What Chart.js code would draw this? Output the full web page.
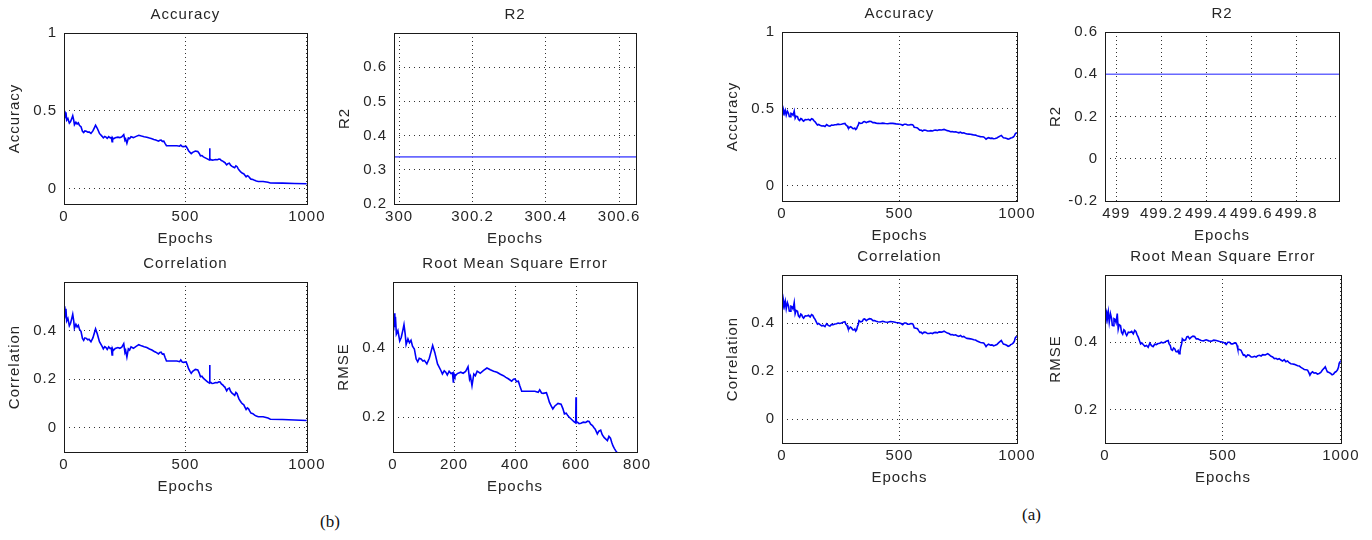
<!DOCTYPE html>
<html>
<head>
<meta charset="utf-8">
<script src="https://cdn.jsdelivr.net/npm/chart.js@4.4.1/dist/chart.umd.min.js"></script>
<style>
  body { margin: 0; background: #fff; width: 1372px; height: 540px; position: relative; overflow: hidden; }
  .box { position: absolute; }
  .tag { position: absolute; font-family: "Liberation Serif", "Times New Roman", serif; font-size: 17px; color: #111; }
</style>
</head>
<body>
<div class="tag" style="left:320px;top:512px">(b)</div>
<div class="tag" style="left:1022px;top:505px">(a)</div>
<script>
// (b) group: accuracy, correlation and rmse panels all trace this same curve
var epochsB = [
    0, 2, 4, 6, 8, 11, 16, 22, 27, 32,
    36, 40, 43, 49, 54, 59, 64, 70, 76, 81,
    86, 92, 98, 103, 111, 119, 125, 130, 137, 146,
    157, 162, 168, 173, 178, 184, 190, 195, 198, 200,
    203, 211, 222, 230, 238, 246, 251, 254, 259, 265,
    270, 276, 286, 297, 308, 319, 330, 341, 352, 362,
    370, 378, 389, 395, 400, 405, 411, 416, 422, 449,
    465, 476, 481, 487, 492, 503, 508, 513, 519, 524,
    530, 541, 551, 557, 562, 568, 573, 578, 584, 590,
    595, 599, 600, 601, 605, 610, 616, 624, 632, 638,
    643, 648, 654, 659, 663, 667, 670, 675, 681, 686,
    692, 697, 703, 708, 713, 717, 721, 726, 730, 735,
    740, 745, 750, 755, 760, 765, 770, 778, 785, 792,
    800, 820, 840, 850, 900, 950, 1000
];
var seriesB = [
    0.50, 0.45, 0.50, 0.46, 0.49, 0.44, 0.45, 0.42, 0.43, 0.45,
    0.467, 0.44, 0.41, 0.426, 0.415, 0.422, 0.405, 0.397, 0.368, 0.36,
    0.37, 0.368, 0.362, 0.364, 0.354, 0.37, 0.39, 0.407, 0.387, 0.354,
    0.335, 0.325, 0.334, 0.33, 0.322, 0.333, 0.326, 0.328, 0.30, 0.325,
    0.318, 0.326, 0.33, 0.327, 0.332, 0.346, 0.31, 0.318, 0.291, 0.325,
    0.32, 0.333, 0.327, 0.335, 0.342, 0.337, 0.333, 0.33, 0.324, 0.32,
    0.315, 0.311, 0.304, 0.31, 0.311, 0.303, 0.304, 0.29, 0.275, 0.275,
    0.275, 0.272, 0.279, 0.27, 0.269, 0.271, 0.258, 0.243, 0.232, 0.224,
    0.232, 0.24, 0.238, 0.225, 0.21, 0.212, 0.205, 0.2, 0.195, 0.19,
    0.186, 0.184, 0.258, 0.184, 0.186, 0.182, 0.183, 0.186, 0.185, 0.189,
    0.188, 0.18, 0.176, 0.17, 0.166, 0.158, 0.152, 0.16, 0.163, 0.15,
    0.142, 0.138, 0.133, 0.145, 0.14, 0.128, 0.118, 0.11, 0.104, 0.098,
    0.095, 0.085, 0.075, 0.082, 0.078, 0.068, 0.06, 0.058, 0.052, 0.048,
    0.045, 0.045, 0.04, 0.035, 0.034, 0.032, 0.03
];

// (a) group, same idea
var epochsA = [
    0, 3, 6, 10, 14, 18, 23, 28, 31, 35,
    38, 42, 47, 52, 56, 60, 66, 70, 75, 80,
    84, 88, 92, 99, 106, 113, 120, 126, 131, 136,
    141, 146, 151, 156, 162, 169, 176, 183, 190, 197,
    204, 211, 218, 225, 232, 239, 246, 253, 260, 268,
    272, 277, 281, 286, 291, 296, 301, 306, 310, 314,
    318, 321, 325, 328, 335, 342, 347, 352, 359, 366,
    373, 380, 387, 394, 401, 408, 418, 429, 440, 451,
    461, 472, 486, 500, 507, 514, 521, 528, 535, 542,
    549, 556, 560, 563, 570, 577, 582, 587, 592, 598,
    605, 612, 620, 627, 634, 641, 648, 655, 662, 669,
    680, 690, 697, 704, 711, 718, 725, 732, 739, 746,
    753, 760, 767, 774, 781, 788, 796, 803, 810, 817,
    824, 831, 838, 845, 852, 859, 864, 869, 874, 880,
    887, 894, 901, 908, 915, 922, 928, 934, 939, 943,
    950, 957, 963, 969, 974, 979, 983, 986, 990, 993,
    997, 1000
];
var seriesA = [
    0.50, 0.455, 0.495, 0.47, 0.49, 0.459, 0.485, 0.47, 0.45, 0.449,
    0.47, 0.468, 0.458, 0.485, 0.439, 0.452, 0.449, 0.43, 0.424, 0.437,
    0.434, 0.425, 0.42, 0.43, 0.429, 0.432, 0.425, 0.435, 0.432, 0.422,
    0.415, 0.405, 0.395, 0.398, 0.393, 0.388, 0.39, 0.385, 0.397, 0.39,
    0.387, 0.394, 0.393, 0.396, 0.397, 0.4, 0.398, 0.4, 0.403, 0.405,
    0.395, 0.39, 0.378, 0.376, 0.383, 0.38, 0.372, 0.371, 0.375, 0.366,
    0.372, 0.385, 0.395, 0.41, 0.405, 0.407, 0.416, 0.417, 0.41, 0.415,
    0.418, 0.417, 0.41, 0.41, 0.407, 0.405, 0.404, 0.407, 0.404, 0.403,
    0.406, 0.405, 0.402, 0.4, 0.398, 0.393, 0.4, 0.4, 0.395, 0.395,
    0.398, 0.397, 0.39, 0.38, 0.378, 0.376, 0.368, 0.361, 0.362, 0.356,
    0.362, 0.361, 0.356, 0.356, 0.358, 0.356, 0.36, 0.361, 0.359, 0.363,
    0.362, 0.366, 0.362, 0.358, 0.356, 0.351, 0.352, 0.349, 0.351, 0.347,
    0.344, 0.348, 0.342, 0.344, 0.339, 0.336, 0.335, 0.334, 0.332, 0.33,
    0.329, 0.325, 0.322, 0.319, 0.318, 0.317, 0.31, 0.302, 0.308, 0.312,
    0.308, 0.309, 0.305, 0.307, 0.31, 0.317, 0.322, 0.327, 0.318, 0.312,
    0.31, 0.307, 0.303, 0.305, 0.31, 0.312, 0.315, 0.318, 0.325, 0.337,
    0.342, 0.346
];

// R2 is a single constant value per run
var r2EpochsB = [299.9, 300.7];
var r2ValuesB = [0.338, 0.338];
var r2EpochsA = [498.9, 500];
var r2ValuesA = [0.4, 0.4];

var ticks1000 = [0, 500, 1000];
var ticks800 = [0, 200, 400, 600, 800];
var ticksR2EpochB = [300, 300.2, 300.4, 300.6];
var ticksR2EpochA = [499, 499.2, 499.4, 499.6, 499.8];
var ticksAcc = [0, 0.5, 1];
var ticksCorr = [0, 0.2, 0.4];
var ticksRmse = [0.2, 0.4];
var ticksR2B = [0.2, 0.3, 0.4, 0.5, 0.6];
var ticksR2A = [-0.2, 0, 0.2, 0.4, 0.6];

var FONT = '"Liberation Sans", Arial, sans-serif';
var TXT = '#262626';

function pts(xs, ys) {
    return xs.map(function (x, i) { return { x: x, y: ys[i] }; });
}
function fmt(v) {
    return String(Math.round(v * 1000) / 1000);
}

var spacing = {
    id: 'spacing',
    beforeUpdate: function (c) { c.ctx.letterSpacing = '1px'; },
    beforeDraw: function (c) { c.ctx.letterSpacing = '1px'; }
};
var frame = {
    id: 'frame',
    afterDraw: function (c) {
        var a = c.chartArea, ctx = c.ctx;
        ctx.save();
        ctx.strokeStyle = '#1a1a1a';
        ctx.lineWidth = 1;
        ctx.strokeRect(Math.round(a.left) + 0.5, Math.round(a.top) + 0.5,
            Math.round(a.right - a.left), Math.round(a.bottom - a.top));
        ctx.restore();
    }
};

// box = plot area [left, top, right, bottom] in page pixels
var panels = [
    { title: 'Accuracy', ylab: 'Accuracy', box: [64, 33, 307, 204], xr: [0, 1000], xt: ticks1000, yr: [-0.1, 1], yt: ticksAcc, data: pts(epochsB, seriesB) },
    { title: 'R2', ylab: 'R2', box: [394, 33, 636, 204], xr: [299.986, 300.646], xt: ticksR2EpochB, yr: [0.2, 0.7], yt: ticksR2B, data: pts(r2EpochsB, r2ValuesB), flat: true },
    { title: 'Correlation', ylab: 'Correlation', box: [64, 282, 307, 452], xr: [0, 1000], xt: ticks1000, yr: [-0.1, 0.6], yt: ticksCorr, data: pts(epochsB, seriesB) },
    { title: 'Root Mean Square Error', ylab: 'RMSE', box: [393, 282, 637, 452], xr: [0, 800], xt: ticks800, yr: [0.1, 0.59], yt: ticksRmse, data: pts(epochsB, seriesB) },
    { title: 'Accuracy', ylab: 'Accuracy', box: [782, 32, 1017, 201], xr: [0, 1000], xt: ticks1000, yr: [-0.1, 1], yt: ticksAcc, data: pts(epochsA, seriesA) },
    { title: 'R2', ylab: 'R2', box: [1105, 32, 1339, 201], xr: [498.95, 499.99], xt: ticksR2EpochA, yr: [-0.2, 0.6], yt: ticksR2A, data: pts(r2EpochsA, r2ValuesA), flat: true },
    { title: 'Correlation', ylab: 'Correlation', box: [782, 275, 1017, 443], xr: [0, 1000], xt: ticks1000, yr: [-0.1, 0.6], yt: ticksCorr, data: pts(epochsA, seriesA) },
    { title: 'Root Mean Square Error', ylab: 'RMSE', box: [1105, 275, 1341, 443], xr: [0, 1000], xt: ticks1000, yr: [0.1, 0.6], yt: ticksRmse, data: pts(epochsA, seriesA) }
];

var YW = 64, TOP = 30, XH = 48, RPAD = 24;

panels.forEach(function (p) {
    var w = YW + (p.box[2] - p.box[0]) + RPAD;
    var h = TOP + (p.box[3] - p.box[1]) + XH;
    var div = document.createElement('div');
    div.className = 'box';
    div.style.left = (p.box[0] - YW) + 'px';
    div.style.top = (p.box[1] - TOP) + 'px';
    var cv = document.createElement('canvas');
    cv.width = w;
    cv.height = h;
    div.appendChild(cv);
    document.body.appendChild(div);

    new Chart(cv, {
        type: 'line',
        data: {
            datasets: [{
                data: p.data,
                borderColor: p.flat ? 'rgb(105,105,255)' : 'rgb(0,0,250)',
                borderWidth: p.flat ? 1.7 : 1.6,
                pointRadius: 0,
                tension: 0
            }]
        },
        options: {
            responsive: false,
            animation: false,
            devicePixelRatio: 1,
            layout: { padding: { left: 0, right: RPAD, top: 0, bottom: 0 } },
            plugins: {
                legend: { display: false },
                tooltip: { enabled: false },
                title: {
                    display: true, text: p.title, color: TXT,
                    fullSize: false, // centre over the plot, not the canvas
                    font: { family: FONT, size: 15, weight: 'normal', lineHeight: 1 },
                    padding: { top: 4.5, bottom: 10.5 }
                }
            },
            scales: {
                x: {
                    type: 'linear', min: p.xr[0], max: p.xr[1],
                    afterBuildTicks: function (s) { s.ticks = p.xt.map(function (v) { return { value: v }; }); },
                    afterFit: function (s) { s.height = XH; },
                    ticks: { autoSkip: false, maxRotation: 0, padding: 5.5, color: TXT, font: { family: FONT, size: 15, lineHeight: 1 }, callback: fmt },
                    grid: { drawTicks: false, color: '#333', lineWidth: 1 },
                    border: { display: false, dash: [1, 3] },
                    title: { display: true, text: 'Epochs', color: TXT, font: { family: FONT, size: 15, lineHeight: 1 }, padding: { top: 0, bottom: 5.5 } }
                },
                y: {
                    type: 'linear', min: p.yr[0], max: p.yr[1],
                    afterBuildTicks: function (s) { s.ticks = p.yt.map(function (v) { return { value: v }; }); },
                    afterFit: function (s) { s.width = YW; },
                    ticks: { padding: 7, color: TXT, font: { family: FONT, size: 15, lineHeight: 1 }, callback: fmt },
                    grid: { drawTicks: false, color: '#333', lineWidth: 1 },
                    border: { display: false, dash: [1, 4] },
                    title: { display: true, text: p.ylab, color: TXT, font: { family: FONT, size: 15, lineHeight: 1 }, padding: { top: 7.5, bottom: 0 } }
                }
            }
        },
        plugins: [spacing, frame]
    });
});
</script>
</body>
</html>
